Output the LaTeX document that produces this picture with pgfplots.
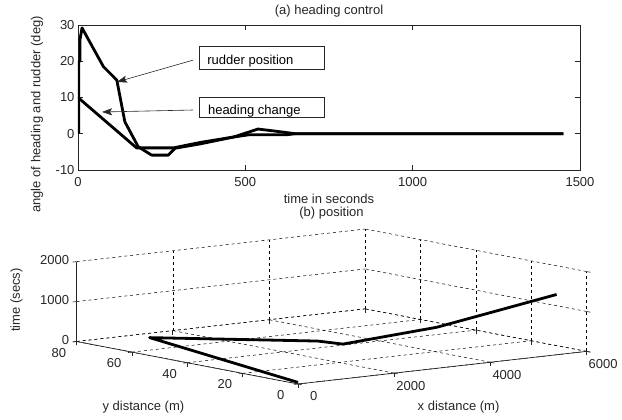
\documentclass[border=0pt]{standalone}
\usepackage{fontspec}
\setmainfont{Liberation Sans}
\usepackage{pgfplots}
\pgfplotsset{compat=1.18}
\usetikzlibrary{arrows.meta}
\definecolor{mlInk}{HTML}{262626}

\begin{document}
\begin{tikzpicture}[font=\fontsize{13}{15}\selectfont]
\path[use as bounding box] (0pt,0pt) rectangle (622pt,420pt);

% (a) heading control
\begin{axis}[
  at={(78pt,250pt)}, anchor=south west, scale only axis,
  width=502pt, height=145pt,
  xmin=0, xmax=1500, ymin=-10, ymax=30,
  xtick={0,500,1000,1500}, ytick={-10,0,10,20,30},
  tick align=inside, major tick length=5pt,
  axis line style={mlInk, line width=0.7pt}, tick style={mlInk, line width=0.7pt},
  tick label style={text=mlInk},
  /pgf/number format/assume math mode=true, /pgf/number format/1000 sep={},
  scaled ticks=false,
  xticklabel style={anchor=base, yshift=-17pt},
  title={(a) heading control},
  title style={at={(axis description cs:0.5,1.03)}, anchor=base, text=mlInk},
  xlabel={time in seconds}, ylabel={angle of heading and rudder (deg)},
  every axis x label/.style={at={(axis description cs:0.5,-0.2345)}, anchor=base, text=mlInk},
  every axis y label/.style={at={(axis description cs:-0.0817,0.383)}, rotate=90, anchor=center, text=mlInk},
]
% rudder position
\addplot[black, line width=2.8pt, line join=round] coordinates {
  (2,0) (2,20) (6,20) (6,26) (12,29.2) (76,18.5) (116,14.8) (140,3.3) (180,-3.6)
  (220,-5.9) (270,-5.9) (290,-4) (365,-2.8) (465,-0.9) (538,1.3) (600,0.6) (650,0) (1450,0)};
% heading change
\addplot[black, line width=2.8pt, line join=round] coordinates {
  (0,10) (175,-3.9) (285,-3.9) (365,-2.4) (465,-0.9) (510,-0.3) (620,-0.3) (650,0) (1450,0)};

\draw[mlInk, line width=1pt, fill=white] (axis cs:364,24.2) rectangle (axis cs:738,17.6);
\node[anchor=base west, inner sep=0pt, text=black] at (axis cs:386,19.2) {rudder position};
\draw[mlInk, line width=1pt, fill=white] (axis cs:364,10.1) rectangle (axis cs:738,4.6);
\node[anchor=base west, inner sep=0pt, text=black] at (axis cs:388,5.2) {heading change};
\draw[-{Stealth[length=10pt,width=7pt,inset=2pt]}, mlInk, line width=0.6pt]
  (axis cs:343.6,20.3) -- (axis cs:116.5,14.3);
\draw[-{Stealth[length=10pt,width=7pt,inset=2pt]}, mlInk, line width=0.6pt]
  (axis cs:343.6,6.55) -- (axis cs:71.7,6.0);
\end{axis}

% (b) position
\begin{axis}[
  at={(298pt,36pt)}, anchor=origin, scale only axis,
  width=510pt, height=155pt,
  view={-37.5}{30}, plot box ratio=1 1 0.86,
  xmin=0, xmax=6000, ymin=0, ymax=80, zmin=0, zmax=2000,
  xtick={0,2000,4000,6000}, ytick={0,20,40,60,80}, ztick={0,1000,2000},
  grid=major, major grid style={black, dashed, line width=0.5pt},
  axis line style={draw=none}, tick pos=left,
  tick align=outside, major tick length=4pt, tick style={mlInk, line width=0.6pt},
  tick label style={text=mlInk},
  xticklabel style={xshift=5pt, yshift=-3pt},
  yticklabel style={xshift=-6pt, yshift=-2pt},
  /pgf/number format/assume math mode=true, /pgf/number format/1000 sep={},
  scaled ticks=false, clip=false,
  title={(b) position},
  title style={at={(axis description cs:0.5,1.042)}, anchor=base, text=mlInk},
  xlabel={x distance (m)}, ylabel={y distance (m)}, zlabel={time (secs)},
  every axis x label/.style={at={(axis description cs:0.749,-0.168)}, anchor=base, text=mlInk},
  every axis y label/.style={at={(axis description cs:0.131,-0.168)}, anchor=base, text=mlInk},
  every axis z label/.style={at={(axis description cs:-0.118,0.542)}, rotate=90, anchor=center, text=mlInk},
]
\draw[mlInk, line width=0.7pt] (axis cs:0,0,0) -- (axis cs:6000,0,0);
\draw[mlInk, line width=0.7pt] (axis cs:0,0,0) -- (axis cs:0,80,0);
\draw[mlInk, line width=0.7pt] (axis cs:0,80,0) -- (axis cs:0,80,2000);
\addplot3[black, line width=2.8pt, line join=round] coordinates {
  (0,0,40) (0,53.6,448) (874,8,850) (934,0,872) (2886,0,1028) (3571,0,1160) (5377,0,1510)};
\end{axis}
\end{tikzpicture}
\end{document}
